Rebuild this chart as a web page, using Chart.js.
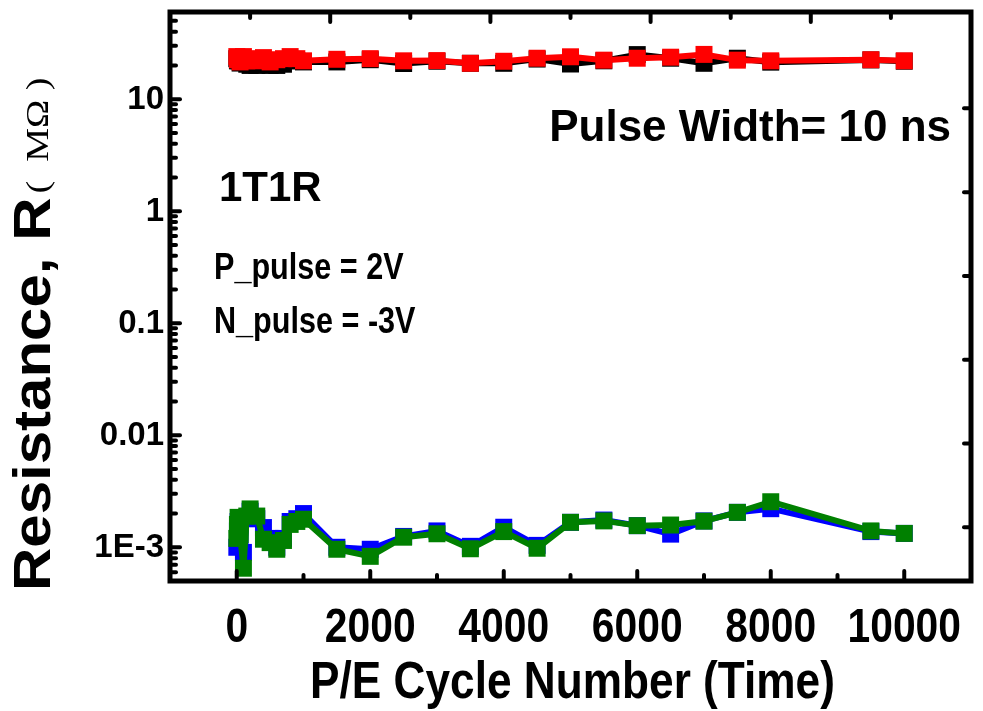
<!DOCTYPE html>
<html><head><meta charset="utf-8">
<script src="https://cdn.jsdelivr.net/npm/chart.js@4.4.1/dist/chart.umd.min.js"></script>
<style>html,body{margin:0;padding:0;background:#fff;}#wrap{width:983px;height:711px;position:relative;}</style>
</head><body><div id="wrap"><canvas id="c" width="983" height="711" style="width:983px;height:711px;"></canvas></div>
<script>
const cycles = [1,10,20,50,100,150,200,300,400,500,600,700,800,900,1000,
  1500,2000,2500,3000,3500,4000,4500,5000,5500,6000,6500,7000,7500,8000,9500,10000];
const hrsBlack = [23,22,22,21,22,20.5,20,20,21,20,20,20.5,22,22,21.5,
  21.5,22.5,20.8,21.8,20.9,20.9,22.8,20.6,22,25,23.2,20.9,23.2,21.4,22.4,21.8];
const hrsRed = [24,22.5,23.5,21.5,24,22,23,22,23.5,21.5,22.5,23,24,23,22,
  22.7,23,22,22.1,20.9,21.8,23.2,23.9,22.3,23.2,23.7,25.1,22.3,22,22.5,22];
const lrsBlue = [1.0e-3,1.4e-3,1.7e-3,1.2e-3,9.0e-4,1.8e-3,2.1e-3,1.8e-3,1.5e-3,1.2e-3,1.0e-3,1.2e-3,1.7e-3,1.8e-3,2.0e-3,
  1.0e-3,9.6e-4,1.25e-3,1.4e-3,1.02e-3,1.51e-3,1.04e-3,1.67e-3,1.75e-3,1.56e-3,1.31e-3,1.72e-3,2.05e-3,2.21e-3,1.38e-3,1.33e-3];
const lrsGreen = [1.2e-3,1.6e-3,1.85e-3,1.3e-3,6.5e-4,1.9e-3,2.2e-3,1.9e-3,1.18e-3,1.1e-3,9.6e-4,1.15e-3,1.6e-3,1.7e-3,1.78e-3,
  9.6e-4,8.3e-4,1.23e-3,1.32e-3,9.7e-4,1.38e-3,9.8e-4,1.67e-3,1.72e-3,1.56e-3,1.58e-3,1.71e-3,2.05e-3,2.55e-3,1.40e-3,1.33e-3];
const xTickValues = [0,2000,4000,6000,8000,10000];
const xTickLabels = ['0','2000','4000','6000','8000','10000'];
const yTickValues = [1e-3,1e-2,1e-1,1,10];
const yTickLabels = ['1E-3','0.01','0.1','1','10'];
const topTickValues = [1,2,3,4,5,6,7,8,9];
const rightTickValues = [0,1,2,3,4,5];
const yTitleMain = 'Resistance, R';
const yTitleUnit = '(  MΩ )';
const xTitle = 'P/E Cycle Number (Time)';
const noteWidth = 'Pulse Width= 10 ns';
const noteDevice = '1T1R';
const noteP = 'P_pulse = 2V';
const noteN = 'N_pulse = -3V';

const pts = arr => cycles.map((c,i)=>({x:c,y:arr[i]}));
const SANS = "'Liberation Sans',Arial,sans-serif";
const SERIF = "'Liberation Serif','Times New Roman',serif";

function ds(label, arr, color){
  return {label, data:pts(arr), xAxisID:'x', yAxisID:'y',
    borderColor:color, backgroundColor:color,
    pointBackgroundColor:color, pointBorderColor:color, pointBorderWidth:0,
    pointStyle:'rect', pointRadius:12, pointHoverRadius:12,
    borderWidth:6, borderCapStyle:'round', borderJoinStyle:'round', tension:0, fill:false};
}

function txt(ctx, s, x, y, font, align, sq){
  ctx.save();
  ctx.translate(x,y); ctx.scale(sq,1);
  ctx.font = font; ctx.textAlign = align; ctx.textBaseline = 'middle';
  ctx.fillText(s,0,0);
  ctx.restore();
}

const decor = {
  id:'decor',
  afterDraw(chart){
    const ctx = chart.ctx, a = chart.chartArea;
    const xs = chart.scales.x, ys = chart.scales.y, x2 = chart.scales.x2, y2 = chart.scales.y2;
    ctx.save();
    ctx.strokeStyle='#000'; ctx.lineCap='round';
    ctx.lineWidth = 4;
    const line=(x1,y1,x2_,y2_)=>{ctx.beginPath();ctx.moveTo(x1,y1);ctx.lineTo(x2_,y2_);ctx.stroke();};
    for(let v=0; v<=10000; v+=1000){
      const px = xs.getPixelForValue(v);
      const len = (v%2000===0)?10:6;
      line(px,a.bottom,px,a.bottom-len);
    }
    topTickValues.forEach(v=>{
      const px = x2.getPixelForValue(v);
      const len = (v%2===0)?10:6;
      line(px,a.top,px,a.top+len);
    });
    rightTickValues.forEach(v=>{
      const py = y2.getPixelForValue(v);
      line(a.right,py,a.right-7,py);
    });
    for(let e=-4; e<=1; e++){
      for(let m=1; m<=9; m++){
        const v = m*Math.pow(10,e);
        if(v<ys.min||v>ys.max) continue;
        const py = ys.getPixelForValue(v);
        const len = (m===1)?10:6;
        line(a.left,py,a.left+len,py);
      }
    }
    ctx.lineWidth = 5; ctx.lineCap='butt';
    ctx.strokeRect(a.left,a.top,a.right-a.left,a.bottom-a.top);
    ctx.fillStyle='#000';
    xTickValues.forEach((v,i)=>txt(ctx, xTickLabels[i], xs.getPixelForValue(v), 629, 'bold 48px '+SANS, 'center', 0.85));
    yTickValues.forEach((v,i)=>txt(ctx, yTickLabels[i], 164, ys.getPixelForValue(v)+1, 'bold 33px '+SANS, 'right', 1));
    txt(ctx, xTitle, (a.left+a.right)/2+2, 684, 'bold 52px '+SANS, 'center', 0.85);
    txt(ctx, noteWidth, 951, 129, 'bold 44px '+SANS, 'right', 1);
    txt(ctx, noteDevice, 219, 189, 'bold 42px '+SANS, 'left', 1);
    txt(ctx, noteP, 214, 269, 'bold 36px '+SANS, 'left', 0.85);
    txt(ctx, noteN, 214, 323, 'bold 36px '+SANS, 'left', 0.85);
    ctx.save();
    ctx.translate(50, 591);
    ctx.scale(0.85,1);
    ctx.rotate(-Math.PI/2);
    ctx.textBaseline='alphabetic'; ctx.textAlign='left';
    ctx.font = 'bold 60px '+SANS;
    ctx.fillText(yTitleMain, 0, 0);
    const w1 = ctx.measureText(yTitleMain).width;
    ctx.font = '38px '+SERIF;
    ctx.fillText(yTitleUnit, w1+4, -2);
    ctx.restore();
    ctx.restore();
  }
};

new Chart(document.getElementById('c'), {
  type:'line',
  data:{datasets:[ds('HRS',hrsRed,'#ff0000'), ds('HRS ref',hrsBlack,'#000000'),
                  ds('LRS',lrsGreen,'#008000'), ds('LRS ref',lrsBlue,'#0000ff')]},
  options:{
    responsive:false, animation:false, devicePixelRatio:1,
    layout:{padding:{top:12,right:4,left:0,bottom:0}},
    plugins:{legend:{display:false}, tooltip:{enabled:false}},
    scales:{
      x:{type:'linear', position:'bottom', min:-1000, max:11000,
        afterBuildTicks:s=>{s.ticks = xTickValues.map(v=>({value:v}));},
        afterFit:s=>{s.height=130; s.paddingLeft=0; s.paddingRight=0;},
        grid:{display:false, drawTicks:false}, border:{display:false},
        ticks:{display:false}},
      y:{type:'logarithmic', position:'left', min:5e-4, max:60,
        afterBuildTicks:s=>{s.ticks = yTickValues.map(v=>({value:v}));},
        afterFit:s=>{s.width=170; s.paddingTop=0; s.paddingBottom=0;},
        grid:{display:false, drawTicks:false}, border:{display:false},
        ticks:{display:false}},
      x2:{type:'linear', position:'top', min:0, max:10, display:false},
      y2:{type:'linear', position:'right', min:-0.64, max:6.15, display:false}
    }
  },
  plugins:[decor]
});
</script></body></html>
